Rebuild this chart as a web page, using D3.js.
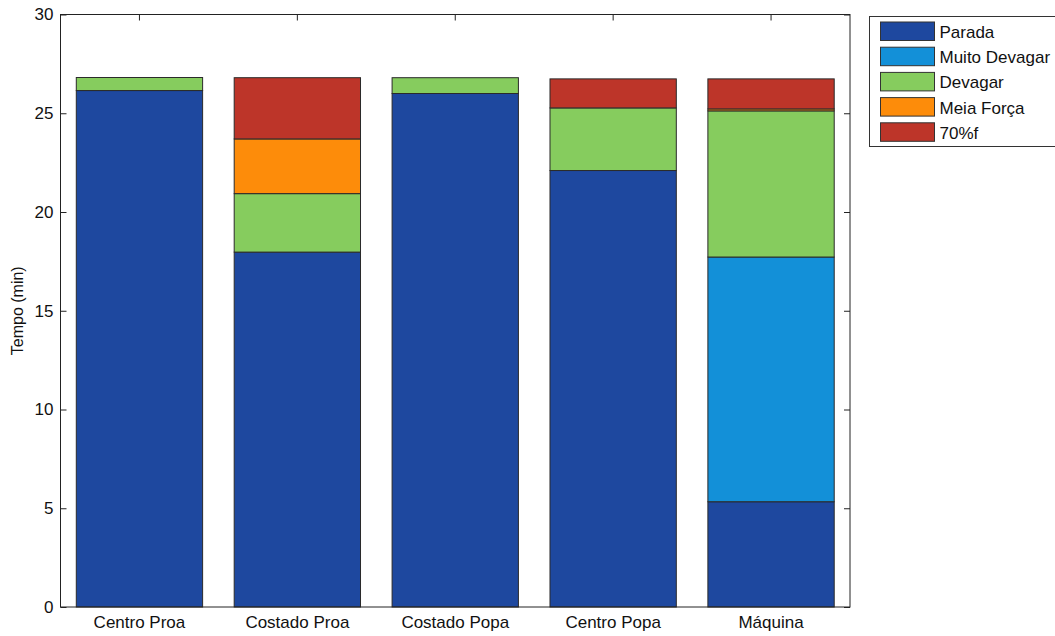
<!DOCTYPE html>
<html>
<head>
<meta charset="utf-8">
<script src="https://cdn.jsdelivr.net/npm/d3@7"></script>
<style>
  html, body { margin: 0; padding: 0; background: #fff; }
  svg { display: block; font-family: "Liberation Sans", Arial, sans-serif; }
</style>
</head>
<body>
<svg id="chart" width="1055" height="636"></svg>
<script>
// Locations along the vessel
const categories = ["Centro Proa", "Costado Proa", "Costado Popa", "Centro Popa", "Máquina"];

// Engine regimes (stack order, bottom to top)
const seriesNames = ["Parada", "Muito Devagar", "Devagar", "Meia Força", "70%f"];
const seriesColors = ["#1e489f", "#1390d8", "#86cc5e", "#fd8c0a", "#bd3529"];

// Time spent in each regime, minutes, one value per location
const parada       = [26.15, 17.97, 26.00, 22.10, 5.33];
const muitoDevagar = [0, 0, 0, 0, 12.39];
const devagar      = [0.66, 2.96, 0.80, 3.17, 7.40];
const meiaForca    = [0, 2.77, 0, 0, 0.10];
const setentaPct   = [0, 3.10, 0, 1.47, 1.52];

const yTicks = [0, 5, 10, 15, 20, 25, 30];
const yLabel = "Tempo (min)";

const seriesValues = [parada, muitoDevagar, devagar, meiaForca, setentaPct];

const rows = categories.map((c, i) => {
  const r = { category: c };
  seriesNames.forEach((s, k) => { r[s] = seriesValues[k][i]; });
  return r;
});

const svg = d3.select("#chart");
const margin = { left: 60.5, right: 205, top: 14.5, bottom: 29 };
const W = 1055, H = 636;
const x0 = margin.left, x1 = W - margin.right;
const y0 = H - margin.bottom, y1 = margin.top;

const x = d3.scaleBand().domain(categories).range([x0, x1]).paddingInner(0.2).paddingOuter(0.1);
const y = d3.scaleLinear().domain([0, 30]).range([y0, y1]);

const stacked = d3.stack().keys(seriesNames)(rows);
const color = d3.scaleOrdinal().domain(seriesNames).range(seriesColors);

// Stacked bars
svg.append("g").selectAll("g")
  .data(stacked)
  .join("g")
  .attr("fill", d => color(d.key))
  .selectAll("rect")
  .data(d => d.filter(p => p[1] - p[0] > 0))
  .join("rect")
  .attr("x", d => x(d.data.category))
  .attr("width", x.bandwidth())
  .attr("y", d => y(d[1]))
  .attr("height", d => y(d[0]) - y(d[1]))
  .attr("stroke", "#2a2a2a")
  .attr("stroke-width", 1);

const fontSize = 17;
const axisColor = "#222";

// Left axis (ticks pointing inward)
const leftAxis = svg.append("g").attr("transform", `translate(${x0},0)`)
  .call(d3.axisLeft(y).tickValues(yTicks).tickSize(-6).tickPadding(7).tickFormat(d3.format("d")));
leftAxis.select(".domain").remove();
leftAxis.selectAll("line").attr("stroke", axisColor);
leftAxis.selectAll("text").attr("font-size", fontSize).attr("fill", "#111")
  .attr("font-family", "Liberation Sans, Arial, sans-serif");

// Right axis ticks
const rightAxis = svg.append("g").attr("transform", `translate(${x1},0)`)
  .call(d3.axisRight(y).tickValues(yTicks).tickSize(-6).tickFormat(""));
rightAxis.select(".domain").remove();
rightAxis.selectAll("line").attr("stroke", axisColor);

// Bottom axis labels
const bottomAxis = svg.append("g").attr("transform", `translate(0,${y0})`)
  .call(d3.axisBottom(x).tickSize(0).tickPadding(9));
bottomAxis.select(".domain").remove();
bottomAxis.selectAll("text").attr("font-size", fontSize).attr("fill", "#111")
  .attr("font-family", "Liberation Sans, Arial, sans-serif");

// Top axis tick marks
const topAxis = svg.append("g").attr("transform", `translate(0,${y1})`)
  .call(d3.axisTop(x).tickSize(-6).tickFormat(""));
topAxis.select(".domain").remove();
topAxis.selectAll("line").attr("stroke", axisColor);

// Plot frame
svg.append("rect")
  .attr("x", x0).attr("y", y1)
  .attr("width", x1 - x0).attr("height", y0 - y1)
  .attr("fill", "none").attr("stroke", axisColor).attr("stroke-width", 1);

// Y axis title
svg.append("text")
  .attr("transform", `translate(23,${(y0 + y1) / 2}) rotate(-90)`)
  .attr("text-anchor", "middle")
  .attr("font-size", 16)
  .attr("fill", "#111")
  .text(yLabel);

// Legend
const lg = svg.append("g").attr("transform", "translate(869.5,16.5)");
lg.append("rect")
  .attr("width", 200).attr("height", 130)
  .attr("fill", "#fff").attr("stroke", "#333").attr("stroke-width", 1);
const item = lg.selectAll("g.item")
  .data(seriesNames)
  .join("g")
  .attr("class", "item")
  .attr("transform", (d, i) => `translate(11,${5.5 + i * 25.2})`);
item.append("rect")
  .attr("width", 54).attr("height", 18.5)
  .attr("fill", d => color(d))
  .attr("stroke", "#333").attr("stroke-width", 1);
item.append("text")
  .attr("x", 59).attr("y", 10)
  .attr("dy", "0.35em")
  .attr("font-size", fontSize)
  .attr("fill", "#111")
  .text(d => d);
</script>
</body>
</html>
